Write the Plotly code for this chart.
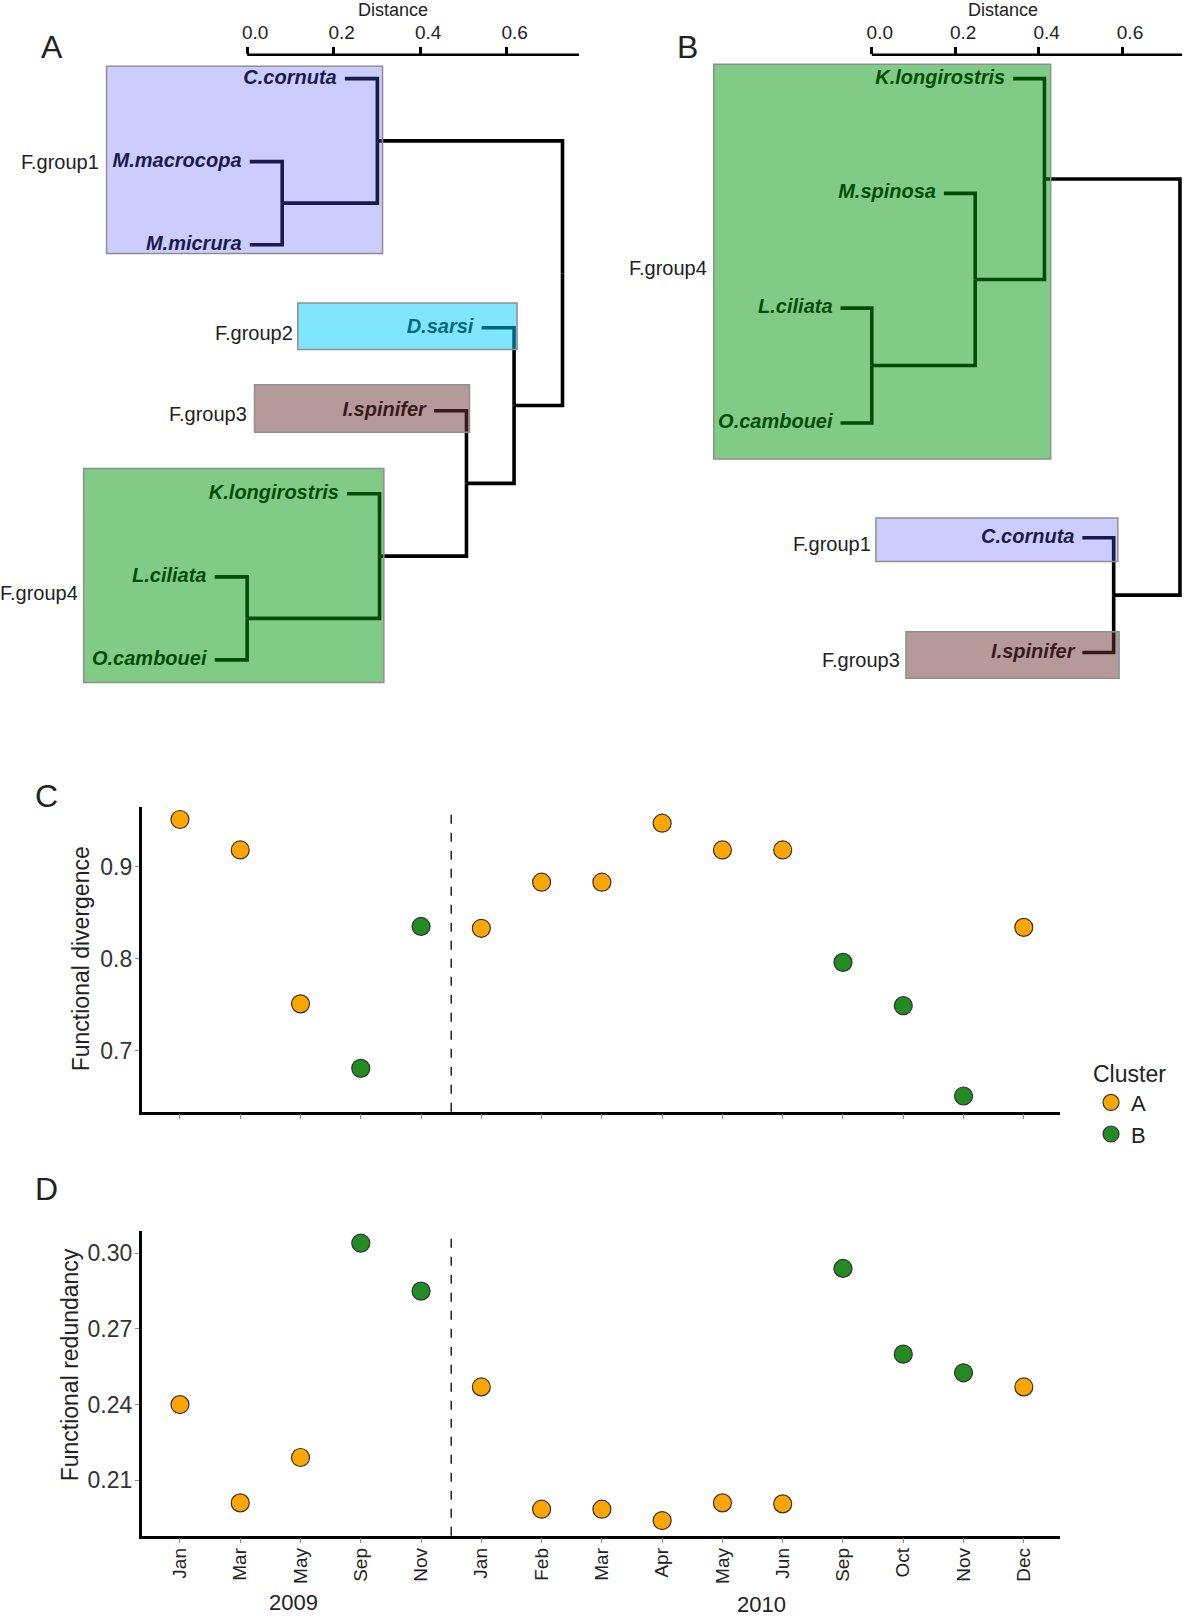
import plotly.graph_objects as go

# ---------------- DATA ----------------
# Panel A dendrogram (R-style merge matrix: negative = leaf number, positive = earlier merge)
leaves_A = ["C.cornuta", "M.macrocopa", "M.micrura", "D.sarsi", "I.spinifer",
            "K.longirostris", "L.ciliata", "O.cambouei"]
groups_A = [1, 1, 1, 2, 3, 4, 4, 4]
merge_left_A = [-2, -1, -7, -6, -5, -4, 2]
merge_right_A = [-3, 1, -8, 3, 4, 5, 6]
height_A = [0.081, 0.301, 0.0, 0.306, 0.507, 0.617, 0.729]

# Panel B dendrogram
leaves_B = ["K.longirostris", "M.spinosa", "L.ciliata", "O.cambouei", "C.cornuta", "I.spinifer"]
groups_B = [4, 4, 4, 4, 1, 3]
merge_left_B = [-3, -2, -1, -5, 3]
merge_right_B = [-4, 1, 2, -6, 4]
height_B = [0.0, 0.248, 0.414, 0.580, 0.739]

distance_ticks = [0.0, 0.2, 0.4, 0.6]

# Panels C & D
months = ["Jan", "Mar", "May", "Sep", "Nov",
          "Jan", "Feb", "Mar", "Apr", "May", "Jun", "Sep", "Oct", "Nov", "Dec"]
years = ["2009"] * 5 + ["2010"] * 10
cluster = ["A", "A", "A", "B", "B", "A", "A", "A", "A", "A", "A", "B", "B", "B", "A"]
func_div = [0.951, 0.918, 0.751, 0.681, 0.835, 0.833, 0.883, 0.883, 0.947, 0.918,
            0.918, 0.796, 0.749, 0.651, 0.834]
func_red = [0.240, 0.201, 0.219, 0.304, 0.285, 0.247, 0.1985, 0.1985, 0.194, 0.201,
            0.2006, 0.294, 0.260, 0.2526, 0.247]
div_ticks = [0.7, 0.8, 0.9]
red_ticks = [0.21, 0.24, 0.27, 0.30]

# ---------------- STYLE ----------------
FW, FH = 1200, 1619
K = 0.967
FONT = "Liberation Sans, Arial, sans-serif"


def PX(v):
    return min(1.0, max(0.0, (v / K) / FW))


def PY(v):
    return min(1.0, max(0.0, 1 - (v / K) / FH))


# translucent group boxes laid over black branches / labels
group_fill = {1: "rgba(85,85,255,0.30)", 2: "rgba(1,205,253,0.50)",
              3: "rgba(109,53,53,0.50)", 4: "rgba(1,151,11,0.50)"}
cluster_col = {"A": "#FFA500", "B": "#228B22"}
STUB = 0.075
LABEL_GAP = 0.019

fig = go.Figure()
annotations = []
shapes = []


def draw_dendro(leaves, groups, ml, mr, h, xa, ya):
    ypos, xpos = {}, {}
    xs, ys = [], []
    for j in range(len(h)):
        kids = []
        for c in (ml[j], mr[j]):
            if c < 0:
                key = ("L", -c - 1)
                ypos[key] = -c
                xpos[key] = h[j] - STUB
            else:
                key = ("N", c - 1)
            kids.append(key)
        node = ("N", j)
        ypos[node] = (ypos[kids[0]] + ypos[kids[1]]) / 2
        xpos[node] = h[j]
        for k in kids:
            xs += [h[j], h[j], xpos[k], None]
            ys += [ypos[node], ypos[k], ypos[k], None]
    fig.add_trace(go.Scatter(x=xs, y=ys, mode="lines", xaxis=xa, yaxis=ya,
                             line=dict(color="#000000", width=3.6),
                             hoverinfo="skip", showlegend=False))
    lx = [xpos[("L", i)] - LABEL_GAP for i in range(len(leaves))]
    ly = [ypos[("L", i)] for i in range(len(leaves))]
    fig.add_trace(go.Scatter(x=lx, y=ly, mode="text", xaxis=xa, yaxis=ya,
                             text=[f"<b><i>{n}</i></b>" for n in leaves],
                             textposition="middle left",
                             textfont=dict(family=FONT, size=20, color="#000000"),
                             hoverinfo="skip", showlegend=False, cliponaxis=False))


draw_dendro(leaves_A, groups_A, merge_left_A, merge_right_A, height_A, "x", "y")
draw_dendro(leaves_B, groups_B, merge_left_B, merge_right_B, height_B, "x2", "y2")

# group boxes (layout decoration): (xref, yref, group, x0, x1, y0, y1)
boxes = [
    ("x", "y", 1, -0.325, 0.313, 0.851, 3.105),
    ("x", "y", 2, 0.117, 0.624, 3.702, 4.263),
    ("x", "y", 3, 0.017, 0.514, 4.686, 5.259),
    ("x", "y", 4, -0.378, 0.316, 5.695, 8.273),
    ("x2", "y2", 4, -0.379, 0.429, 0.874, 4.315),
    ("x2", "y2", 1, 0.010, 0.590, 4.829, 5.207),
    ("x2", "y2", 3, 0.082, 0.593, 5.820, 6.225),
]
for xr, yr, g, x0, x1, y0, y1 in boxes:
    shapes.append(dict(type="rect", xref=xr, yref=yr, x0=x0, x1=x1, y0=y0, y1=y1,
                       fillcolor=group_fill[g], line=dict(color="#8f8f8f", width=1.5),
                       layer="above"))

group_labels = [("F.group1", 98, 157), ("F.group2", 285, 322), ("F.group3", 241, 400),
                ("F.group4", 77, 573), ("F.group4", 686, 259), ("F.group1", 844, 526),
                ("F.group3", 872, 638)]
for t, rx, cy in group_labels:
    annotations.append(dict(x=PX(rx), y=PY(cy), xref="paper", yref="paper", text=t,
                            xanchor="right", yanchor="middle", showarrow=False,
                            font=dict(family=FONT, size=20, color="#222222")))

# distance axis lines (top)
xmax_A, xmax_B = 0.767, 0.744
shapes.append(dict(type="line", xref="x", yref="y domain", x0=0, x1=xmax_A, y0=1, y1=1,
                   line=dict(color="black", width=2.5)))
shapes.append(dict(type="line", xref="x2", yref="y2 domain", x0=0, x1=xmax_B, y0=1, y1=1,
                   line=dict(color="black", width=2.5)))
for xc in (PX(380), PX(970)):
    annotations.append(dict(x=xc, y=PY(10), xref="paper", yref="paper", text="Distance",
                            xanchor="center", yanchor="middle", showarrow=False,
                            font=dict(family=FONT, size=18, color="#222")))

# ---------------- PANELS C & D ----------------
idx = list(range(len(months)))
for c in ["A", "B"]:
    xs = [i for i in idx if cluster[i] == c]
    fig.add_trace(go.Scatter(
        x=xs, y=[func_div[i] for i in xs], mode="markers", xaxis="x3", yaxis="y3",
        name=c, legendgroup=c, showlegend=True,
        marker=dict(size=18, color=cluster_col[c], line=dict(color="#333333", width=1.2))))
    fig.add_trace(go.Scatter(
        x=xs, y=[func_red[i] for i in xs], mode="markers", xaxis="x4", yaxis="y4",
        name=c, legendgroup=c, showlegend=False,
        marker=dict(size=18, color=cluster_col[c], line=dict(color="#333333", width=1.2))))

split = (years.index("2010") - 1 + years.index("2010")) / 2
for xr, yr in (("x3", "y3 domain"), ("x4", "y4 domain")):
    shapes.append(dict(type="line", xref=xr, yref=yr, x0=split, x1=split, y0=0, y1=1,
                       line=dict(color="black", width=1.3, dash="dash")))

for yr_name, shift, ybot in (("2009", -7, 3), ("2010", 9, 1)):
    ii = [i for i in idx if years[i] == yr_name]
    annotations.append(dict(x=(ii[0] + ii[-1]) / 2, y=ybot / FH, xref="x4", yref="paper",
                            text=yr_name, xanchor="center", yanchor="bottom", showarrow=False,
                            xshift=shift, borderpad=0,
                            font=dict(family=FONT, size=22, color="#222")))

annotations.append(dict(x=PX(78), y=PY(927), xref="paper", yref="paper",
                        text="Functional divergence", textangle=-90, showarrow=False,
                        xanchor="center", yanchor="middle",
                        font=dict(family=FONT, size=23, color="#222")))
annotations.append(dict(x=PX(68), y=PY(1320), xref="paper", yref="paper",
                        text="Functional redundancy", textangle=-90, showarrow=False,
                        xanchor="center", yanchor="middle",
                        font=dict(family=FONT, size=23, color="#222")))

for t, x, y in (("A", 50, 45), ("B", 665, 45), ("C", 45, 770), ("D", 45, 1150)):
    annotations.append(dict(x=PX(x), y=PY(y), xref="paper", yref="paper", text=t,
                            xanchor="center", yanchor="middle", showarrow=False,
                            font=dict(family=FONT, size=32, color="#222")))

# ---------------- AXES ----------------
dendro_x = dict(side="top", showgrid=False, zeroline=False, showline=False,
                tickmode="array", tickvals=distance_ticks,
                ticktext=[f"{v:.1f}" for v in distance_ticks],
                ticks="outside", ticklen=7, tickwidth=2.5, tickcolor="black",
                ticklabelshift=8, tickfont=dict(family=FONT, size=19, color="#222"))
hidden_y = dict(showgrid=False, zeroline=False, showline=False, showticklabels=False, ticks="")


def xr_dendro(zero_px, px_per_unit, left_px, right_px):
    return [(left_px - zero_px) / px_per_unit, (right_px - zero_px) / px_per_unit]


y_dom_AB = [PY(670), PY(53)]
xC = [PX(137), PX(1025)]
xrange_C = [-0.635, 14.6]

common_y = dict(showgrid=False, zeroline=False, showline=True, linecolor="black", linewidth=2.5,
                ticks="outside", ticklen=4, tickcolor="#888", tickwidth=1.2,
                ticklabelstandoff=-2,
                tickfont=dict(family=FONT, size=23, color="#333"))

fig.update_layout(
    width=FW, height=FH, margin=dict(l=0, r=0, t=0, b=0),
    paper_bgcolor="white", plot_bgcolor="rgba(0,0,0,0)",
    font=dict(family=FONT, color="#222"),
    xaxis=dict(domain=[PX(0), PX(600)], range=xr_dendro(239, 418.3, 0, 600),
               anchor="y", **dendro_x),
    yaxis=dict(domain=y_dom_AB, range=[1 + (670 - 76) / 80.3, 1 + (53 - 76) / 80.3],
               anchor="x", **hidden_y),
    xaxis2=dict(domain=[PX(600), PX(1160)], range=xr_dendro(843, 403.3, 600, 1160),
                anchor="y2", **dendro_x),
    yaxis2=dict(domain=y_dom_AB, range=[1 + (670 - 76) / 111.0, 1 + (53 - 76) / 111.0],
                anchor="x2", **hidden_y),
    xaxis3=dict(domain=xC, range=xrange_C, anchor="y3", showgrid=False, zeroline=False,
                showline=True, linecolor="black", linewidth=2.5, tickmode="array",
                tickvals=idx, showticklabels=False, ticks="outside", ticklen=5,
                tickcolor="#888", tickwidth=1.2),
    yaxis3=dict(domain=[PY(1075), PY(780)], range=[0.634, 0.965], anchor="x3",
                tickmode="array", tickvals=div_ticks, ticktext=[f"{v:.1f}" for v in div_ticks],
                **common_y),
    xaxis4=dict(domain=xC, range=xrange_C, anchor="y4", showgrid=False, zeroline=False,
                showline=True, linecolor="black", linewidth=2.5, tickmode="array",
                tickvals=idx, ticktext=months, tickangle=-90, ticks="outside", ticklen=5,
                tickcolor="#888", tickwidth=1.2, ticklabelstandoff=-3,
                tickfont=dict(family=FONT, size=19, color="#222")),
    yaxis4=dict(domain=[PY(1485), PY(1190)], range=[0.188, 0.309], anchor="x4",
                tickmode="array", tickvals=red_ticks, ticktext=[f"{v:.2f}" for v in red_ticks],
                **common_y),
    legend=dict(x=PX(1055), y=PY(1017), xanchor="left", yanchor="top",
                title=dict(text="Cluster", font=dict(family=FONT, size=23, color="#222")),
                font=dict(family=FONT, size=22, color="#222"), bgcolor="rgba(0,0,0,0)",
                tracegroupgap=0),
    shapes=shapes, annotations=annotations,
)

fig.write_html("out.html", config={"displayModeBar": False},
               post_script="document.body.style.margin='0px';")
